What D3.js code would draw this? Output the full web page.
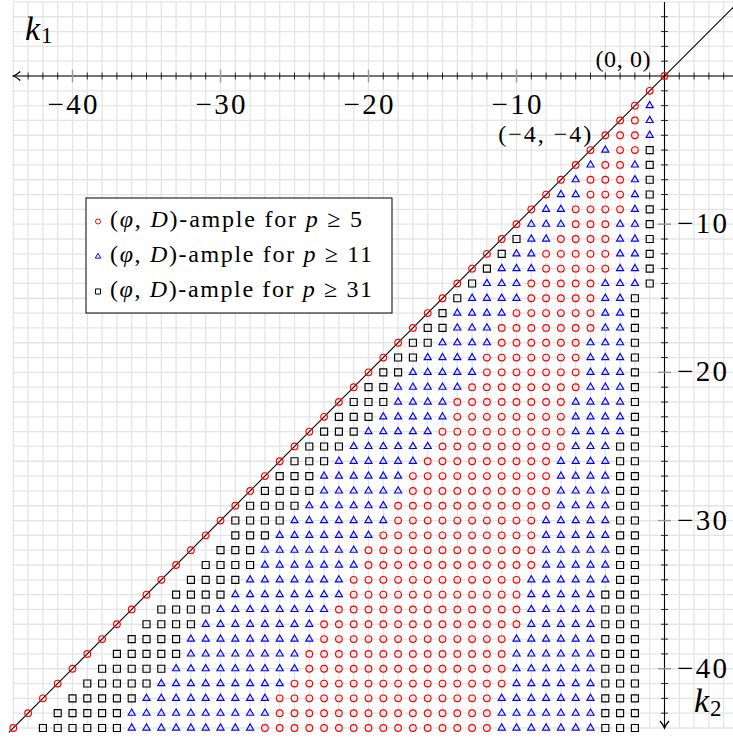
<!DOCTYPE html>
<html>
<head>
<meta charset="utf-8">
<script src="https://cdn.jsdelivr.net/npm/d3@7"></script>
<style>
  html, body { margin: 0; padding: 0; background: #fff; }
  svg { display: block; }
  text { font-family: "Liberation Serif", "Times New Roman", serif; fill: #000; }
</style>
</head>
<body>
<svg id="chart" width="733" height="738"></svg>
<script>
// lattice points, one row per k2 = 0, -1, ..., -44
// run-length coded from k1 = k2 (the diagonal) going right
// o = ample for p>=5, t = p>=11, s = p>=31, . = no mark
var rowRuns = [
  "o1",
  "o1",
  "o1 t1",
  "o2 t1",
  "o3 t1",
  "o1 t1 o2 s1",
  "o1 t1 o2 t1 s1",
  "o1 t1 o3 t1 s1",
  "o1 t2 o3 t1 s1",
  "o1 t2 o4 t1 s1",
  "o1 t3 o3 t2 s1",
  "o1 s1 t2 o4 t2 s1",
  "o1 s1 t2 o5 t2 s1",
  "o1 s1 t3 o5 t2 s1",
  "o1 s1 t3 o5 t3 s1",
  "o1 s1 t4 o5 t2 s1 .1",
  "o1 s1 t4 o6 t2 s1 .1",
  "o1 s2 t3 o7 t2 s1 .1",
  "o1 s2 t4 o6 t3 s1 .1",
  "o1 s2 t4 o7 t3 s1 .1",
  "o1 s2 t5 o7 t3 s1 .1",
  "o1 s2 t5 o8 t3 s1 .1",
  "o1 s3 t4 o8 t4 s1 .1",
  "o1 s3 t5 o8 t4 s1 .1",
  "o1 s3 t5 o9 t4 s1 .1",
  "o1 s3 t6 o9 t3 s2 .1",
  "o1 s3 t6 o9 t4 s2 .1",
  "o1 s3 t6 o10 t4 s2 .1",
  "o1 s4 t6 o10 t4 s2 .1",
  "o1 s4 t6 o11 t4 s2 .1",
  "o1 s4 t7 o10 t5 s2 .1",
  "o1 .1 s3 t7 o11 t5 s2 .1",
  "o1 .1 s3 t7 o12 t5 s2 .1",
  "o1 .1 s4 t7 o12 t5 s2 .1",
  "o1 .1 s4 t7 o12 t6 s2 .1",
  "o1 .1 s4 t8 o12 t5 s3 .1",
  "o1 .1 s4 t8 o13 t5 s3 .1",
  "o1 .1 s4 t8 o14 t5 s3 .1",
  "o1 .1 s4 t9 o13 t6 s3 .1",
  "o1 .1 s5 t8 o14 t6 s3 .1",
  "o1 .1 s5 t9 o14 t6 s3 .1",
  "o1 .1 s5 t9 o15 t6 s3 .1",
  "o1 .1 s5 t9 o15 t7 s3 .1",
  "o1 .1 s5 t10 o15 t7 s3 .1",
  "o1 .1 s6 t9 o16 t7 s3 .1"
];

var k1Ticks = [-40, -30, -20, -10];
var k2Ticks = [-10, -20, -30, -40];
var legendKeys = ["o", "t", "s"];
var legendPrimes = ["5", "11", "31"];
var marked = [[0, 0, "(0, 0)"], [-4, -4, "(\u22124, \u22124)"]];

var svg = d3.select('#chart');
var W = 733;

var x = d3.scaleLinear().domain([-44, 0]).range([13.3, 664.5]);
var y = d3.scaleLinear().domain([0, -44]).range([76, 728]);

var styles = {
  o: { shape: d3.symbolCircle, size: 35, legendSize: 20, color: '#ff0000' },
  t: { shape: d3.symbolTriangle, size: 22, legendSize: 13, color: '#0000ff' },
  s: { shape: d3.symbolSquare, size: 49, legendSize: 26, color: '#000000' }
};

// expand the runs into points
var points = [];
rowRuns.forEach(function (row, r) {
  var k2 = -r;
  var k1 = k2;
  row.split(' ').forEach(function (run) {
    var c = run.charAt(0), n = +run.slice(1);
    for (var i = 0; i < n; i++) {
      if (c != '.') points.push({ k1: k1, k2: k2, type: c });
      k1++;
    }
  });
});

// grid
var grid = svg.append('g').attr('stroke', '#e4e4e4').attr('stroke-width', 1.3);
grid.selectAll('line.v').data(d3.range(-44, 6)).enter().append('line')
  .attr('x1', function (d) { return x(d); }).attr('x2', function (d) { return x(d); })
  .attr('y1', y(5)).attr('y2', y(-44));
grid.selectAll('line.h').data(d3.range(-44, 6)).enter().append('line')
  .attr('x1', x(-44)).attr('x2', W)
  .attr('y1', function (d) { return y(d); }).attr('y2', function (d) { return y(d); });

// axes
var ax = svg.append('g');
var x0 = x(0), y0 = y(0);
ax.append('line').attr('x1', x(-44)).attr('x2', W).attr('y1', y0).attr('y2', y0)
  .attr('stroke', '#000').attr('stroke-width', 1.1);
ax.append('line').attr('x1', x0).attr('x2', x0).attr('y1', y(5)).attr('y2', y(-44))
  .attr('stroke', '#000').attr('stroke-width', 1.1);

var minor = d3.range(-43, 5).filter(function (d) { return d != 0 && d % 10 != 0; });
ax.selectAll('line.tx').data(minor).enter().append('line')
  .attr('x1', function (d) { return x(d); }).attr('x2', function (d) { return x(d); })
  .attr('y1', y0 - 3.5).attr('y2', y0 + 3.5)
  .attr('stroke', '#000').attr('stroke-width', 0.8);
ax.selectAll('line.ty').data(minor).enter().append('line')
  .attr('y1', function (d) { return y(d); }).attr('y2', function (d) { return y(d); })
  .attr('x1', x0 - 3.5).attr('x2', x0 + 3.5)
  .attr('stroke', '#000').attr('stroke-width', 0.8);
ax.selectAll('line.mx').data(k1Ticks).enter().append('line')
  .attr('x1', function (d) { return x(d); }).attr('x2', function (d) { return x(d); })
  .attr('y1', y0 - 6.5).attr('y2', y0 + 6.5)
  .attr('stroke', '#9a9a9a').attr('stroke-width', 1.4);
ax.selectAll('line.my').data(k2Ticks).enter().append('line')
  .attr('y1', function (d) { return y(d); }).attr('y2', function (d) { return y(d); })
  .attr('x1', x0 - 6.5).attr('x2', x0 + 6.5)
  .attr('stroke', '#9a9a9a').attr('stroke-width', 1.4);

// arrow heads
var xa = x(-44), ya = y(-44);
ax.append('path')
  .attr('d', 'M' + (xa + 7) + ',' + (y0 - 4.5) + ' Q' + (xa + 3) + ',' + (y0 - 1) + ' ' + xa + ',' + y0 +
    ' Q' + (xa + 3) + ',' + (y0 + 1) + ' ' + (xa + 7) + ',' + (y0 + 4.5))
  .attr('fill', 'none').attr('stroke', '#000').attr('stroke-width', 1.3);
ax.append('path')
  .attr('d', 'M' + (x0 - 4.5) + ',' + (ya - 7) + ' Q' + (x0 - 1) + ',' + (ya - 3) + ' ' + x0 + ',' + ya +
    ' Q' + (x0 + 1) + ',' + (ya - 3) + ' ' + (x0 + 4.5) + ',' + (ya - 7))
  .attr('fill', 'none').attr('stroke', '#000').attr('stroke-width', 1.3);

// tick labels
ax.selectAll('text.lx').data(k1Ticks).enter().append('text')
  .attr('x', function (d) { return x(d); }).attr('y', y0 + 38)
  .attr('text-anchor', 'middle').attr('font-size', 29)
  .attr('textLength', 50).attr('lengthAdjust', 'spacing')
  .text(function (d) { return '\u2212' + Math.abs(d); });
ax.selectAll('text.ly').data(k2Ticks).enter().append('text')
  .attr('x', x0 + 12.5).attr('y', function (d) { return y(d) + 9; })
  .attr('font-size', 29)
  .attr('textLength', 50).attr('lengthAdjust', 'spacing')
  .text(function (d) { return '\u2212' + Math.abs(d); });

// axis names
var n1 = svg.append('text').attr('x', 25).attr('y', 40).attr('font-size', 34);
n1.append('tspan').attr('font-style', 'italic').text('k');
n1.append('tspan').attr('font-size', 23).attr('dy', 3).attr('dx', 1).text('1');
var n2 = svg.append('text').attr('x', 694).attr('y', 712).attr('font-size', 34);
n2.append('tspan').attr('font-style', 'italic').text('k');
n2.append('tspan').attr('font-size', 23).attr('dy', 4).attr('dx', 1).text('2');

// diagonal k1 = k2
svg.append('line')
  .attr('x1', x(-44.3)).attr('y1', y(-44.3)).attr('x2', x(5)).attr('y2', y(5))
  .attr('stroke', '#000').attr('stroke-width', 1.1);

// marks
svg.append('g').selectAll('path').data(points).enter().append('path')
  .attr('transform', function (d) { return 'translate(' + x(d.k1) + ',' + y(d.k2) + ')'; })
  .attr('d', function (d) { return d3.symbol().type(styles[d.type].shape).size(styles[d.type].size)(); })
  .attr('fill', 'none')
  .attr('stroke', function (d) { return styles[d.type].color; })
  .attr('stroke-width', 1.15);

// point annotations
svg.append('text').attr('x', x(marked[0][0]) - 14).attr('y', y(marked[0][1]) - 9)
  .attr('text-anchor', 'end').attr('font-size', 24)
  .attr('textLength', 55).attr('lengthAdjust', 'spacing').text(marked[0][2]);
svg.append('text').attr('x', x(marked[1][0]) - 14).attr('y', y(marked[1][1]) + 7)
  .attr('text-anchor', 'end').attr('font-size', 24)
  .attr('textLength', 93).attr('lengthAdjust', 'spacing').text(marked[1][2]);

// legend
var lg = svg.append('g').attr('transform', 'translate(86,198)');
lg.append('rect').attr('width', 306).attr('height', 115)
  .attr('fill', '#fff').attr('stroke', '#000').attr('stroke-width', 1);
legendKeys.forEach(function (k, i) {
  var by = 29 + i * 35;
  lg.append('path')
    .attr('transform', 'translate(12,' + (by - 5.5) + ')')
    .attr('d', d3.symbol().type(styles[k].shape).size(styles[k].legendSize)())
    .attr('fill', 'none').attr('stroke', styles[k].color).attr('stroke-width', 1);
  var t = lg.append('text').attr('x', 24).attr('y', by).attr('font-size', 24)
    .attr('textLength', i == 0 ? 252 : 262).attr('lengthAdjust', 'spacing');
  t.append('tspan').text('(');
  t.append('tspan').attr('font-style', 'italic').text('\u03c6');
  t.append('tspan').text(', ');
  t.append('tspan').attr('font-style', 'italic').text('D');
  t.append('tspan').text(')-ample for ');
  t.append('tspan').attr('font-style', 'italic').text('p');
  t.append('tspan').text(' \u2265 ' + legendPrimes[i]);
});
</script>
</body>
</html>
